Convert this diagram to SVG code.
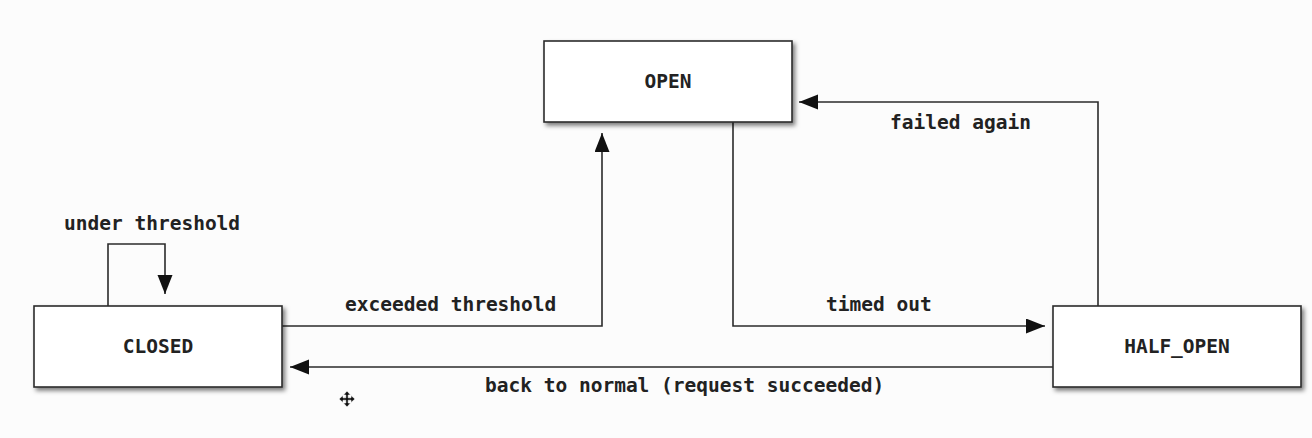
<svg xmlns="http://www.w3.org/2000/svg" width="1312" height="438" viewBox="0 0 1312 438">
<style>
.node rect{fill:#ffffff;stroke:#2b2b2b;stroke-width:1.6;filter:url(#sh)}
text{font-family:"DejaVu Sans Mono","Liberation Mono",monospace;font-size:19.5px;font-weight:bold;fill:#222}
.nl{text-anchor:middle}
.edge{fill:none;stroke:#2b2b2b;stroke-width:1.6;marker-end:url(#arr)}
</style>
<defs>
<filter id="sh" x="-10%" y="-20%" width="130%" height="150%">
<feDropShadow dx="2.5" dy="3" stdDeviation="2" flood-color="#000" flood-opacity="0.5"/>
</filter>
<marker id="arr" markerUnits="userSpaceOnUse" markerWidth="20" markerHeight="16" refX="19" refY="7.5" orient="auto">
<path d="M0,0 L19,7.5 L0,15 Z" fill="#111"/>
</marker>
</defs>
<rect width="1312" height="438" fill="#fcfcfc"/>
<g id="connectors">
<path class="edge" d="M108,306 V244 H165 V294"/>
<path class="edge" d="M282,326 H602 V133"/>
<path class="edge" d="M733,122 V326 H1045"/>
<path class="edge" d="M1098,306 V102 H799"/>
<path class="edge" d="M1053,367 H290"/>
<text x="64" y="230">under threshold</text>
<text x="345" y="311">exceeded threshold</text>
<text x="826" y="311">timed out</text>
<text x="890" y="129">failed again</text>
<text x="485" y="392">back to normal (request succeeded)</text>
</g>
<g id="node-open" class="node">
<rect x="544" y="41" width="248" height="81"/>
<text class="nl" x="668" y="88">OPEN</text>
</g>
<g id="node-closed" class="node">
<rect x="34" y="306" width="248" height="81"/>
<text class="nl" x="158" y="353">CLOSED</text>
</g>
<g id="node-half-open" class="node">
<rect x="1053" y="306" width="248" height="81"/>
<text class="nl" x="1177" y="353">HALF_OPEN</text>
</g>
<g id="cursor" fill="#111" stroke="#fff" stroke-width="0.6">
<path d="M347,391 L350.5,395 H348.2 V397.8 H351 V395.5 L355,399 L351,402.5 V400.2 H348.2 V403 H350.5 L347,407 L343.5,403 H345.8 V400.2 H343 V402.5 L339,399 L343,395.5 V397.8 H345.8 V395 H343.5 Z"/>
</g>
</svg>
